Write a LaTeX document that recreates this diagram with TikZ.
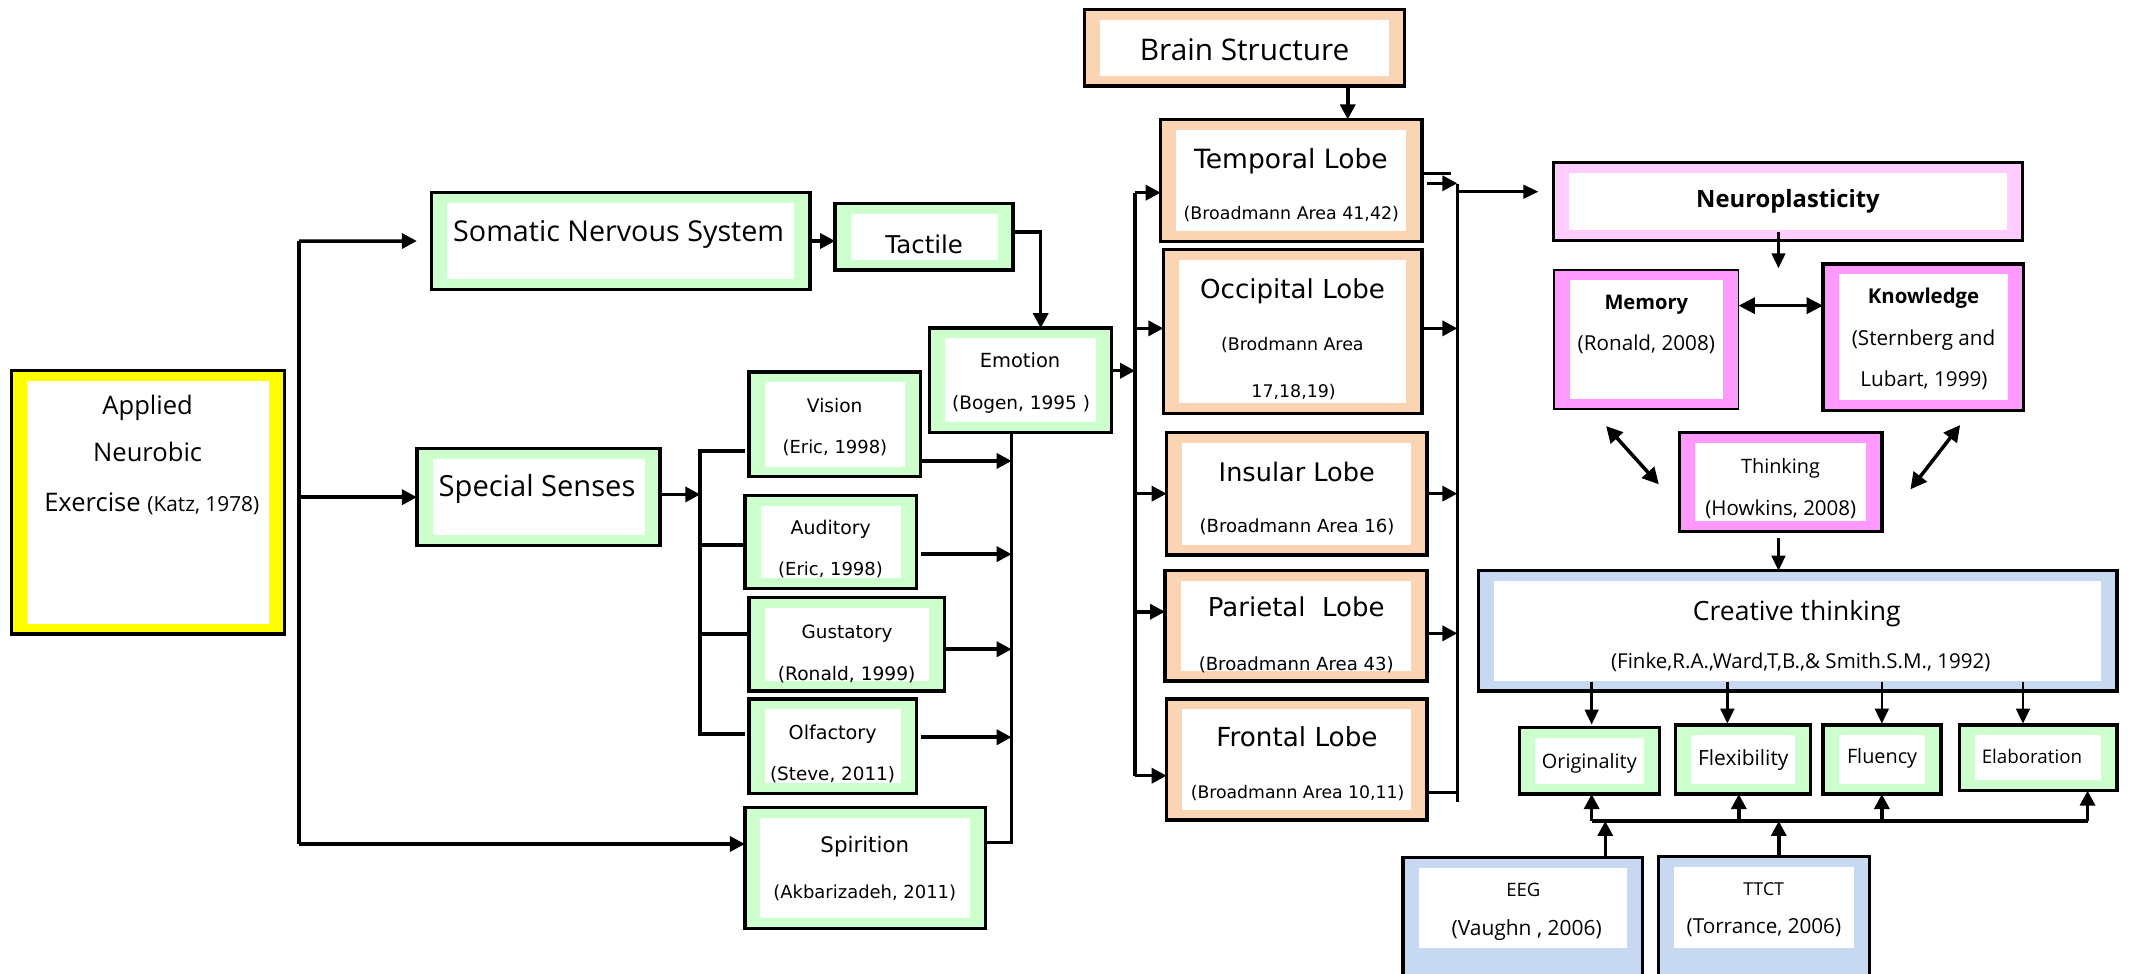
\documentclass[tikz,border=0pt]{standalone}
\usepackage{fontspec}
\setmainfont{Open Sans}
\newfontfamily\dvs{DejaVu Sans}
\usetikzlibrary{arrows.meta,calc}

\definecolor{mint}{HTML}{CCFFCC}
\definecolor{peach}{HTML}{FBD4B4}
\definecolor{lemon}{HTML}{FFFF00}
\definecolor{blush}{HTML}{FFCCFF}
\definecolor{orchid}{HTML}{FF99FF}
\definecolor{sky}{HTML}{C6D9F1}

\newcommand\setfs[1]{\fontsize{#1pt}{#1pt}\selectfont}

% framed card: black outline, coloured band, white centre
% #1 style, #2 name, #3/#4 top-left, #5/#6 bottom-right
\newcommand\cardbox[6]{%
  \pgfmathsetmacro\cbw{(#5)-(#3)}\pgfmathsetmacro\cbh{(#6)-(#4)}%
  \pgfmathsetmacro\cbx{((#3)+(#5))/2}\pgfmathsetmacro\cby{((#4)+(#6))/2}%
  \node[#1, minimum width=\cbw pt, minimum height=\cbh pt] (#2) at (\cbx,\cby) {};}

% one line of text inside a card
\newcommand\putlabel[5]{\node[lbl,font=#1] (#2) at (#3,#4) {#5};}

\tikzset{
  card/.style={rectangle, draw=black, line width=2.6pt, fill=#1, inner sep=0pt, outer sep=0pt,
    path picture={\fill[white] ($(path picture bounding box.south west)+(11.5pt,7.5pt)$)
      rectangle ($(path picture bounding box.north east)+(-11.5pt,-7.5pt)$);}},
  cutcard/.style={card=#1,
    path picture={\fill[white] ($(path picture bounding box.south west)+(11.5pt,24.5pt)$)
      rectangle ($(path picture bounding box.north east)+(-11.5pt,-7.5pt)$);}},
  lbl/.style={anchor=mid, inner sep=0pt, outer sep=0pt, yshift=-3.5pt},
  wire/.style={line width=2.6pt},
  conarrow/.style={wire, -{Triangle[length=11pt,width=11pt]}},
  thinarrow/.style={line width=1.9pt, -{Triangle[length=11pt,width=10pt]}},
  twoway/.style={line width=2.6pt, {Triangle[length=12pt,width=12pt]}-{Triangle[length=12pt,width=12pt]}},
}

\begin{document}
\begin{tikzpicture}[x=1pt,y=-1pt,line join=miter]
\clip (0,0) rectangle (1568,715.6);
\fill[white] (0,0) rectangle (1568,715.6);

% ---------- cards ----------
\cardbox{card=lemon}{applied}{8.5}{272.6}{209.4}{466.3}
\cardbox{card=mint}{somatic}{317.2}{141.7}{595.6}{212.8}
\cardbox{card=mint}{tactile}{614.2}{149.8}{745.2}{198.6}
\cardbox{card=mint}{special}{306.6}{330}{485.5}{401.3}
\cardbox{card=mint}{emotion}{683.5}{241.3}{817.6}{318}
\cardbox{card=mint}{vision}{550.9}{273.4}{677}{350.6}
\cardbox{card=mint}{auditory}{547.9}{364.3}{674.2}{432.8}
\cardbox{card=mint}{gustatory}{550.9}{439.5}{694.5}{508.1}
\cardbox{card=mint}{olfactory}{550.9}{514.1}{674.2}{583.7}
\cardbox{card=mint}{spirition}{547.8}{593.8}{724.8}{682.8}

\cardbox{card=peach}{brain}{797.7}{6.9}{1033.1}{63.2}
\cardbox{card=peach}{temporal}{853.6}{87.8}{1045.8}{177.7}
\cardbox{card=peach}{occipital}{855.6}{183.4}{1045.8}{304}
\cardbox{card=peach}{insular}{858}{318.1}{1049.3}{408}
\cardbox{card=peach}{parietal}{856.8}{419.7}{1049.3}{500.9}
\cardbox{card=peach}{frontal}{858}{514.1}{1049.3}{603.1}

\cardbox{card=blush}{neuro}{1142.6}{119.6}{1487.5}{177}
\cardbox{card=orchid, line width=1.2pt}{memory}{1142.9}{198.6}{1278.7}{301}
\cardbox{card=orchid}{knowledge}{1340.7}{194.2}{1488.2}{302}
\cardbox{card=orchid}{thinking}{1235.3}{318}{1384.2}{391}

\cardbox{card=sky}{creative}{1087.4}{419.7}{1557}{508.2}
\cardbox{card=mint}{originality}{1117.6}{534.9}{1220.4}{584}
\cardbox{card=mint}{flexibility}{1232.4}{533.2}{1331.6}{584}
\cardbox{card=mint}{fluency}{1340.9}{533.2}{1427.4}{584}
\cardbox{card=mint}{elaboration}{1441.1}{533.2}{1557}{581.5}
\cardbox{cutcard=sky}{eeg}{1032}{630.8}{1208}{722}
\cardbox{cutcard=sky}{ttct}{1219.7}{630}{1375}{722}

% ---------- texts ----------
\putlabel{\setfs{18.8}}{t-app1}{108.6}{298.6}{Applied}
\putlabel{\setfs{18.8}}{t-app2}{108.6}{333.4}{Neurobic}
\putlabel{\setfs{18.8}}{t-app3}{111.6}{370.2}{Exercise {\setfs{15.3}(Katz, 1978)}}
\putlabel{\setfs{21.1}}{t-som}{455}{171.4}{Somatic Nervous System}
\putlabel{\dvs\setfs{18}}{t-tac}{679.7}{180.2}{Tactile}
\putlabel{\setfs{21.4}}{t-spe}{395}{359.3}{Special Senses}
\putlabel{\dvs\setfs{14.3}}{t-emo1}{750.2}{263.8}{Emotion}
\putlabel{\dvs\setfs{13.6}}{t-emo2}{751}{295}{(Bogen, 1995 )}
\putlabel{\dvs\setfs{13.7}}{t-vis1}{613.9}{297.3}{Vision}
\putlabel{\dvs\setfs{13.2}}{t-vis2}{614}{327.6}{(Eric, 1998)}
\putlabel{\dvs\setfs{13.9}}{t-aud1}{611}{386.6}{Auditory}
\putlabel{\dvs\setfs{13.2}}{t-aud2}{610.8}{417.2}{(Eric, 1998)}
\putlabel{\dvs\setfs{13.5}}{t-gus1}{623}{463.1}{Gustatory}
\putlabel{\dvs\setfs{13.7}}{t-gus2}{622.7}{494.4}{(Ronald, 1999)}
\putlabel{\dvs\setfs{14.1}}{t-olf1}{612.4}{537.4}{Olfactory}
\putlabel{\dvs\setfs{13.5}}{t-olf2}{612.3}{567.8}{(Steve, 2011)}
\putlabel{\dvs\setfs{15.7}}{t-spi1}{636}{620.7}{Spirition}
\putlabel{\dvs\setfs{13.2}}{t-spi2}{636}{654.6}{(Akbarizadeh, 2011)}

\putlabel{\setfs{21.9}}{t-brain}{915.4}{38.5}{Brain Structure}
\putlabel{\dvs\setfs{19.5}}{t-tem1}{949.4}{117.7}{Temporal Lobe}
\putlabel{\dvs\setfs{12.8}}{t-tem2}{949.7}{154.9}{(Broadmann Area 41,42)}
\putlabel{\dvs\setfs{19.2}}{t-occ1}{950.6}{213.3}{Occipital Lobe}
\putlabel{\dvs\setfs{12.8}}{t-occ2}{950.5}{251.8}{(Brodmann Area}
\putlabel{\dvs\setfs{12.8}}{t-occ3}{951.4}{286.3}{17,18,19)}
\putlabel{\dvs\setfs{18.8}}{t-ins1}{953.7}{348.1}{Insular Lobe}
\putlabel{\dvs\setfs{13.3}}{t-ins2}{953.9}{385.4}{(Broadmann Area 16)}
\putlabel{\dvs\setfs{19.1}}{t-par1}{953.3}{447.4}{Parietal\ \ Lobe}
\putlabel{\dvs\setfs{13.3}}{t-par2}{953.3}{486.6}{(Broadmann Area 43)}
\putlabel{\dvs\setfs{19.3}}{t-fro1}{953.9}{543}{Frontal Lobe}
\putlabel{\dvs\setfs{12.7}}{t-fro2}{954.3}{581}{(Broadmann Area 10,11)}

\putlabel{\bfseries\setfs{17.5}}{t-neuro}{1315}{146.6}{Neuroplasticity}
\putlabel{\bfseries\setfs{14.8}}{t-mem1}{1210.8}{221.1}{Memory}
\putlabel{\setfs{15.2}}{t-mem2}{1210.8}{251.3}{(Ronald, 2008)}
\putlabel{\bfseries\setfs{15}}{t-kno1}{1414.7}{217}{Knowledge}
\putlabel{\setfs{15.2}}{t-kno2}{1414.7}{247.6}{(Sternberg and}
\putlabel{\setfs{15.2}}{t-kno3}{1415}{278.3}{Lubart, 1999)}
\putlabel{\setfs{14.6}}{t-thi1}{1309.5}{342}{Thinking}
\putlabel{\setfs{15.1}}{t-thi2}{1309.7}{372.6}{(Howkins, 2008)}
\putlabel{\setfs{19.5}}{t-cre1}{1321.5}{449.8}{Creative thinking}
\putlabel{\setfs{15.1}}{t-cre2}{1324.4}{485.4}{(Finke,R.A.,Ward,T,B.,\& Smith.S.M., 1992)}
\putlabel{\setfs{14.6}}{t-ori}{1168.9}{559}{Originality}
\putlabel{\setfs{15.4}}{t-fle}{1282.1}{556.5}{Flexibility}
\putlabel{\setfs{14.6}}{t-flu}{1384.2}{555.3}{Fluency}
\putlabel{\setfs{13.8}}{t-ela}{1494.4}{555.3}{Elaboration}
\putlabel{\setfs{13.6}}{t-eeg1}{1120.3}{653.3}{EEG}
\putlabel{\setfs{15.4}}{t-eeg2}{1122.8}{681.5}{(Vaughn , 2006)}
\putlabel{\setfs{13.1}}{t-tt1}{1297.1}{652.1}{TTCT}
\putlabel{\setfs{15.2}}{t-tt2}{1297.3}{680.3}{(Torrance, 2006)}

% ---------- left trunk ----------
\coordinate (lsT) at (219.8,177.3);
\coordinate (lsB) at (219.8,620.7);
\draw[wire] (lsT) -- (lsB);
\draw[conarrow] (lsT) -- ($(somatic.west)+(-10.6,0)$);
\draw[conarrow] (lsT |- special.west) -- (special.west);
\draw[conarrow] (lsB) -- (lsB -| spirition.west);
\draw[conarrow] (somatic.east) -- (somatic.east -| tactile.west);
\coordinate (tacOut) at ($(tactile.east)+(0,-3.6)$);
\coordinate (emoIn) at ($(emotion.north)+(14.85,0)$);
\draw[conarrow] (tacOut) -| (emoIn);

% ---------- special senses branch ----------
\coordinate (brT) at (515,331.5);
\coordinate (brB) at (515,540);
\coordinate (speOut) at ($(special.east)+(0,-2)$);
\draw[conarrow] (speOut) -- (speOut -| brT);
\coordinate (visIn) at ($(vision.west)+(-3.3,0)$);
\coordinate (olfIn) at ($(olfactory.west)+(-3.0,0)$);
\draw[wire] (visIn |- brT) -- (brT) -- (brB) -- (olfIn |- brB);
\coordinate (audIn) at ($(auditory.west)+(0,2.4)$);
\draw[wire] (brT |- audIn) -- (audIn);
\coordinate (gusIn) at ($(gustatory.west)+(0,-7.5)$);
\draw[wire] (brT |- gusIn) -- (gusIn);

% ---------- collector below emotion ----------
\coordinate (esT) at ($(emotion.south)+(-6.55,0)$);
\coordinate (esB) at (744,619.7);
\draw[wire] (esT) -- (esB) -- (esB -| spirition.east);
\coordinate (visOut) at ($(vision.east)+(0,27)$);
\draw[conarrow] (visOut) -- (visOut -| esB);
\coordinate (audOut) at ($(auditory.east)+(2.9,9)$);
\draw[conarrow] (audOut) -- (audOut -| esB);
\coordinate (gusOut) at ($(gustatory.east)+(0,3.7)$);
\draw[conarrow] (gusOut) -- (gusOut -| esB);
\coordinate (olfOut) at ($(olfactory.east)+(2.9,-6.7)$);
\draw[conarrow] (olfOut) -- (olfOut -| esB);

% ---------- lobes ----------
\coordinate (lbT) at (834.8,141.7);
\coordinate (lbB) at (834.8,570.5);
\coordinate (emoOut) at ($(emotion.east)+(0,-7)$);
\draw[conarrow] (emoOut) -- (emoOut -| lbT);
\draw[wire] (lbT) -- (lbB);
\draw[conarrow] (lbT) -- (lbT -| temporal.west);
\coordinate (occIn) at ($(occipital.west)+(0,-2.2)$);
\draw[conarrow] (lbT |- occIn) -- (occIn);
\draw[conarrow] (lbT |- insular.west) -- (insular.west);
\coordinate (parIn) at ($(parietal.west)+(0,-10.4)$);
\draw[conarrow] (lbT |- parIn) -- (parIn);
\draw[conarrow] (lbB) -- (lbB -| frontal.west);
\coordinate (brOut) at ($(brain.south)+(75.8,0)$);
\draw[conarrow] (brOut) -- (brOut |- temporal.north);

% ---------- right collector ----------
\coordinate (rsT) at (1071.8,135.3);
\coordinate (rsB) at (1071.8,589.6);
\draw[wire] (rsT) -- (rsB);
\coordinate (tmpA) at ($(temporal.east)+(0,-5.25)$);
\draw[wire] (tmpA) -- ($(rsT |- tmpA)+(-4.6,0)$);
\coordinate (tmpB) at ($(temporal.east)+(3.5,2.05)$);
\draw[conarrow] (tmpB) -- (tmpB -| rsT);
\coordinate (occOut) at ($(occipital.east)+(0,-2.2)$);
\draw[conarrow] (occOut) -- (occOut -| rsT);
\draw[conarrow] (insular.east) -- (insular.east -| rsT);
\coordinate (parOut) at ($(parietal.east)+(0,5.5)$);
\draw[conarrow] (parOut) -- (parOut -| rsT);
\coordinate (froOut) at ($(frontal.east)+(0,24.4)$);
\draw[wire] (froOut) -- (froOut -| rsT);
\coordinate (npIn) at ($(neuro.west)+(-11.2,-7.3)$);
\draw[thinarrow] (rsT |- npIn) -- (npIn);

% ---------- neuroplasticity group ----------
\coordinate (npOut) at ($(neuro.south)+(-7.05,-6.6)$);
\coordinate (npEnd) at ($(npOut)+(0,26.9)$);
\draw[thinarrow] (npOut) -- (npEnd);
\coordinate (mkL) at ($(memory.east)+(0,-25)$);
\draw[twoway, line width=2pt] (mkL) -- (mkL -| knowledge.west);
\coordinate (dgA) at ($(memory.south)+(-29.6,12.3)$);
\coordinate (dgB) at ($(thinking.west)+(-15.3,1.7)$);
\draw[twoway] (dgA) -- (dgB);
\coordinate (dgC) at ($(knowledge.south)+(27.15,10.6)$);
\coordinate (dgD) at ($(thinking.east)+(20.8,5.4)$);
\draw[twoway] (dgC) -- (dgD);
\coordinate (thOut) at ($(thinking.south)+(-1.75,5)$);
\draw[thinarrow] (thOut) -- (thOut |- creative.north);

% ---------- creative thinking outputs ----------
\coordinate (cA) at ($(creative.south west)+(83.2,-6.9)$);
\coordinate (cB) at ($(creative.south west)+(183,-6.9)$);
\coordinate (cC) at ($(creative.south west)+(296.6,-6.9)$);
\coordinate (cD) at ($(creative.south west)+(400.4,-6.9)$);
\draw[thinarrow] (cA) -- ($(cA |- originality.north)+(0,-2)$);
\draw[thinarrow] (cB) -- ($(cB |- flexibility.north)+(0,-1)$);
\draw[thinarrow] (cC) -- ($(cC |- fluency.north)+(0,-1)$);
\draw[thinarrow] (cD) -- ($(cD |- elaboration.north)+(0,-1)$);

% ---------- measurement bus ----------
\coordinate (busL) at (1170.6,603.8);
\coordinate (busF) at (1278.8,603.8);
\coordinate (busU) at (1384,603.8);
\coordinate (busR) at (1535.3,603.8);
\draw[wire] (busL) -- (busR);
\draw[conarrow] (busL) -- (busL |- originality.south);
\draw[conarrow] (busF) -- (busF |- flexibility.south);
\draw[conarrow] (busU) -- (busU |- fluency.south);
\draw[conarrow] (busR) -- (busR |- elaboration.south);
\coordinate (eegOut) at ($(eeg.north)+(60.6,0)$);
\draw[conarrow] (eegOut) -- (eegOut |- busL);
\coordinate (ttOut) at ($(ttct.north)+(10.85,0)$);
\draw[conarrow] (ttOut) -- (ttOut |- busL);
\end{tikzpicture}
\end{document}
